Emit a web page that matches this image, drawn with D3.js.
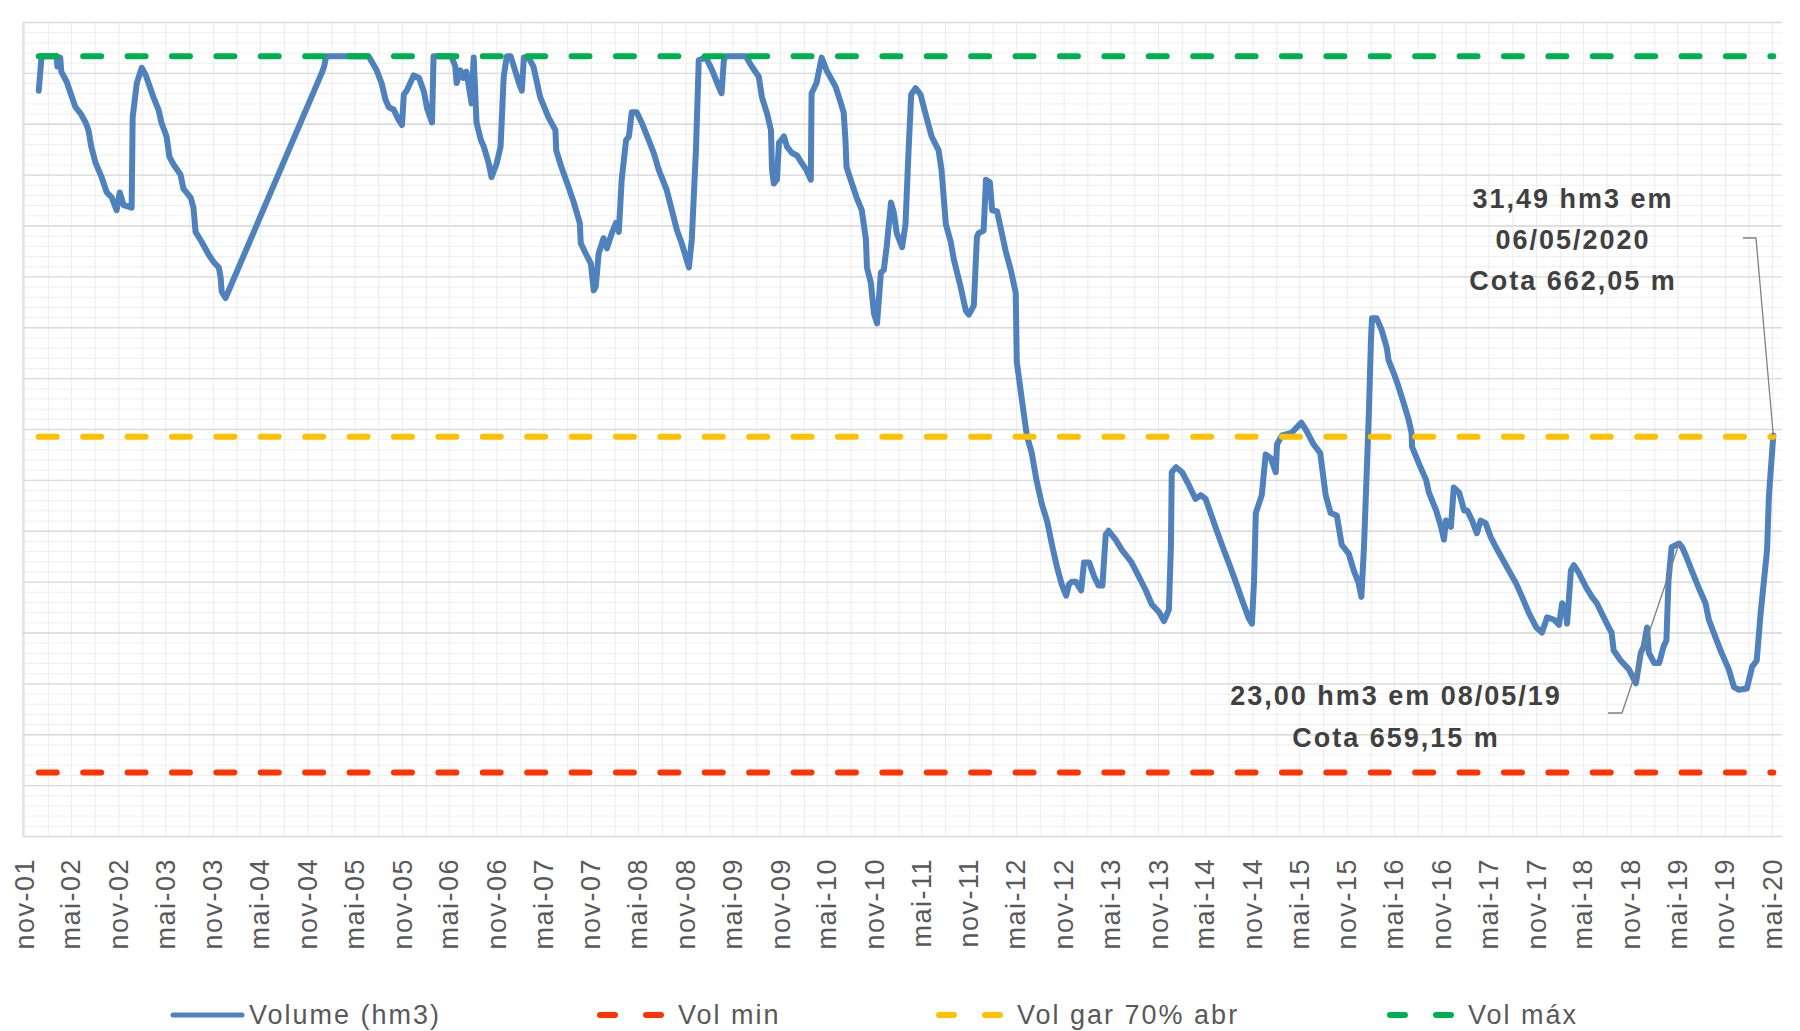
<!DOCTYPE html>
<meta charset="utf-8">
<style>
body { margin: 0; background: #fff; }
svg { font-family: "Liberation Sans", Arial, sans-serif; }
.grid path { display: none; }
.grid-minor line { stroke: #efefef; stroke-width: 1; }
.grid-vert line { stroke: #ececec; stroke-width: 1; }
.grid-major line { stroke: #d9d9d9; stroke-width: 1.4; }
.axis--x path { display: none; }
.axis--x text { font-size: 27px; fill: #595959; letter-spacing: 1.5px; }
.volume { fill: none; stroke: #4f81bd; stroke-width: 6; stroke-linejoin: round; stroke-linecap: round; }
.ref { fill: none; stroke-width: 6; stroke-linecap: round; stroke-dasharray: 18 26.4; }
.note { font-size: 27px; font-weight: bold; fill: #404040; letter-spacing: 2px; }
.leader { fill: none; stroke: #808080; stroke-width: 1.3; }
.legend text { font-size: 27px; fill: #595959; letter-spacing: 2px; }
</style>
<svg width="1800" height="1031"></svg>
<script src="https://d3js.org/d3.v7.min.js"></script>
<script>
// volume series (hm3)
var dates = [
  "2001-12-28","2002-01-08","2002-03-07","2002-03-10","2002-03-21","2002-03-25","2002-04-15","2002-04-30","2002-05-19","2002-06-08",
  "2002-06-27","2002-07-08","2002-07-19","2002-08-05","2002-08-28","2002-09-17","2002-10-06","2002-10-25","2002-11-06","2002-11-21",
  "2002-12-22","2002-12-26","2003-01-11","2003-01-30","2003-02-15","2003-03-16","2003-04-05","2003-04-16","2003-05-06","2003-05-17",
  "2003-06-02","2003-06-29","2003-07-10","2003-08-07","2003-08-18","2003-08-26","2003-09-19","2003-10-16","2003-11-05","2003-11-24",
  "2003-12-01","2003-12-05","2003-12-20","2004-12-26","2005-01-04","2005-01-12","2005-06-25","2005-07-26","2005-08-14","2005-08-29",
  "2005-09-11","2005-09-30","2005-10-19","2005-11-01","2005-11-08","2005-11-19","2005-12-16","2006-01-06","2006-01-25","2006-02-06",
  "2006-02-25","2006-03-03","2006-05-11","2006-05-26","2006-05-31","2006-06-15","2006-06-26","2006-07-08","2006-07-28","2006-08-05",
  "2006-08-16","2006-09-02","2006-09-13","2006-10-02","2006-10-13","2006-11-02","2006-11-17","2006-11-29","2006-12-11","2006-12-26",
  "2007-01-15","2007-01-27","2007-02-07","2007-02-15","2007-03-05","2007-03-24","2007-04-19","2007-05-21","2007-06-17","2007-06-20",
  "2007-07-10","2007-08-07","2007-08-27","2007-09-19","2007-09-23","2007-10-12","2007-11-01","2007-11-12","2007-11-20","2007-12-01",
  "2007-12-20","2008-01-02","2008-01-21","2008-02-06","2008-02-17","2008-02-28","2008-03-16","2008-03-27","2008-04-07","2008-04-26",
  "2008-05-15","2008-05-31","2008-07-01","2008-07-20","2008-08-20","2008-09-09","2008-09-29","2008-10-17","2008-11-14","2008-11-25",
  "2008-12-11","2008-12-22","2009-01-19","2009-02-12","2009-03-09","2009-03-20","2009-03-29","2009-04-05","2009-06-22","2009-07-15",
  "2009-08-11","2009-08-23","2009-09-12","2009-09-27","2009-10-01","2009-10-08","2009-10-20","2009-10-28","2009-11-16","2009-11-28",
  "2009-12-17","2010-01-06","2010-01-21","2010-02-10","2010-02-28","2010-03-03","2010-03-22","2010-04-11","2010-04-30","2010-06-04",
  "2010-06-23","2010-07-05","2010-07-12","2010-07-16","2010-08-01","2010-08-24","2010-09-13","2010-09-29","2010-10-03","2010-10-18",
  "2010-10-30","2010-11-11","2010-11-26","2010-12-07","2010-12-18","2011-01-04","2011-01-15","2011-01-26","2011-02-16","2011-03-01",
  "2011-03-12","2011-03-23","2011-04-09","2011-04-28","2011-05-17","2011-06-10","2011-07-07","2011-07-18","2011-08-04","2011-08-23",
  "2011-09-04","2011-10-01","2011-10-20","2011-11-01","2011-11-20","2011-12-02","2011-12-09","2011-12-28","2012-01-06","2012-01-21",
  "2012-01-30","2012-02-18","2012-03-03","2012-03-22","2012-04-11","2012-04-30","2012-05-04","2012-05-23","2012-06-12","2012-07-01",
  "2012-07-20","2012-08-09","2012-08-30","2012-09-17","2012-10-07","2012-10-26","2012-11-11","2012-11-22","2012-12-03","2012-12-18",
  "2013-01-08","2013-01-19","2013-02-08","2013-02-27","2013-03-16","2013-03-31","2013-04-13","2013-04-24","2013-05-21","2013-06-14",
  "2013-07-11","2013-07-22","2013-08-19","2013-09-15","2013-10-08","2013-11-05","2013-11-24","2013-12-13","2013-12-21","2013-12-24",
  "2014-01-10","2014-02-02","2014-02-28","2014-03-26","2014-04-15","2014-05-04","2014-05-23","2014-06-16","2014-07-13","2014-08-01",
  "2014-08-28","2014-09-21","2014-10-18","2014-10-30","2014-11-07","2014-11-14","2014-12-07","2014-12-22","2015-01-11","2015-01-30",
  "2015-02-04","2015-02-23","2015-04-01","2015-05-09","2015-05-28","2015-06-25","2015-07-21","2015-08-11","2015-08-30","2015-09-23",
  "2015-10-12","2015-11-08","2015-11-27","2015-12-16","2015-12-27","2016-01-06","2016-01-25","2016-02-02","2016-02-06","2016-02-24",
  "2016-03-14","2016-04-03","2016-04-10","2016-04-30","2016-05-19","2016-06-08","2016-06-27","2016-07-08","2016-07-10","2016-08-05",
  "2016-09-02","2016-09-13","2016-10-11","2016-10-30","2016-11-10","2016-11-18","2016-12-07","2016-12-18","2017-01-08","2017-01-27",
  "2017-02-08","2017-02-27","2017-03-17","2017-04-01","2017-04-20","2017-05-10","2017-05-30","2017-06-21","2017-07-18","2017-08-15",
  "2017-09-08","2017-10-05","2017-11-02","2017-11-24","2017-12-14","2018-01-10","2018-01-29","2018-02-10","2018-02-25","2018-03-01",
  "2018-03-16","2018-03-27","2018-04-15","2018-05-12","2018-06-05","2018-06-24","2018-07-13","2018-08-09","2018-08-20","2018-08-28",
  "2018-09-24","2018-10-26","2018-11-22","2018-12-11","2018-12-22","2019-01-04","2019-01-11","2019-02-01","2019-02-20","2019-03-09",
  "2019-03-20","2019-03-28","2019-04-09","2019-05-08","2019-05-20","2019-06-06","2019-06-25","2019-07-21","2019-08-18","2019-08-31",
  "2019-09-26","2019-10-19","2019-11-16","2019-12-06","2019-12-25","2020-01-25","2020-02-14","2020-03-03","2020-03-18","2020-03-31",
  "2020-04-12","2020-04-19","2020-05-06"
];
var volume = [
  58.6, 61.3, 61.3, 60.5, 61.2, 60.1, 59.3, 58.4, 57.3, 56.8,
  56.1, 55.5, 54.2, 52.9, 51.8, 50.6, 50.2, 49.2, 50.6, 49.6,
  49.4, 56.5, 59.2, 60.4, 59.8, 58.1, 57.1, 56.1, 55.0, 53.4,
  52.8, 52.0, 50.9, 50.2, 49.4, 47.5, 46.7, 45.7, 45.1, 44.7,
  43.9, 42.8, 42.3, 60.0, 60.5, 61.3, 61.3, 60.2, 59.2, 57.9,
  57.3, 57.1, 56.3, 55.9, 58.3, 58.6, 59.8, 59.6, 58.5, 57.2,
  56.1, 61.3, 61.3, 60.5, 59.2, 60.2, 59.6, 60.1, 57.6, 61.2,
  56.1, 54.7, 54.2, 52.9, 51.8, 52.9, 54.2, 59.7, 61.3, 61.3,
  60.0, 59.2, 58.6, 61.2, 61.2, 60.5, 58.1, 56.5, 55.5, 53.9,
  52.6, 51.0, 49.8, 48.2, 46.6, 45.8, 45.0, 42.9, 43.2, 45.8,
  47.0, 46.2, 47.4, 48.2, 47.5, 51.6, 54.7, 55.0, 56.9, 56.9,
  56.1, 55.3, 53.7, 52.4, 50.8, 49.2, 47.6, 46.6, 44.7, 46.9,
  53.9, 61.0, 61.2, 60.2, 58.9, 58.4, 61.0, 61.3, 61.3, 60.5,
  59.7, 58.1, 56.8, 55.5, 52.4, 51.3, 51.6, 54.5, 55.0, 54.2,
  53.7, 53.5, 53.0, 52.4, 51.6, 58.4, 59.2, 61.2, 60.2, 58.9,
  57.7, 56.9, 54.7, 52.6, 51.6, 50.2, 49.2, 46.9, 44.7, 43.5,
  41.1, 40.3, 44.3, 44.5, 46.3, 49.8, 49.0, 47.4, 46.3, 48.1,
  53.5, 58.3, 58.8, 58.3, 56.8, 55.0, 53.9, 52.4, 48.1, 46.7,
  45.3, 43.1, 41.3, 41.0, 41.7, 47.1, 47.4, 47.6, 51.6, 51.4,
  49.2, 49.1, 47.8, 46.0, 44.5, 42.7, 37.3, 34.4, 31.5, 30.1,
  27.9, 26.1, 24.7, 22.9, 21.1, 19.7, 18.9, 19.8, 20.0, 20.0,
  19.3, 21.5, 21.5, 20.4, 19.7, 19.7, 23.7, 24.0, 23.3, 22.5,
  21.8, 21.5, 20.4, 19.3, 18.2, 17.6, 16.9, 17.8, 22.9, 28.6,
  29.0, 28.6, 27.6, 26.5, 26.8, 26.5, 25.4, 24.0, 22.5, 21.5,
  20.0, 18.6, 17.1, 16.7, 20.0, 25.4, 26.8, 30.0, 29.7, 28.6,
  30.8, 31.5, 31.7, 32.5, 31.9, 30.8, 30.1, 26.8, 25.4, 25.2,
  22.9, 22.2, 20.9, 19.9, 18.8, 22.7, 33.3, 39.0, 40.7, 40.7,
  39.8, 38.4, 37.4, 36.4, 35.3, 34.0, 32.7, 31.7, 30.6, 29.3,
  28.0, 27.0, 25.6, 24.3, 23.3, 24.8, 24.3, 27.4, 27.0, 25.6,
  25.6, 24.8, 23.8, 24.8, 24.6, 23.5, 22.7, 21.9, 20.9, 19.9,
  18.8, 17.5, 16.4, 16.0, 17.2, 17.0, 16.6, 18.3, 17.5, 16.7,
  20.9, 21.3, 20.7, 19.6, 18.8, 18.3, 17.5, 16.4, 16.0, 14.6,
  13.8, 13.1, 12.0, 14.4, 14.9, 16.4, 14.4, 13.6, 13.6, 14.9,
  15.4, 20.1, 22.7, 23.0, 22.7, 21.9, 20.9, 19.6, 18.3, 17.0,
  15.6, 14.4, 13.1, 11.7, 11.5, 11.6, 13.3, 13.8, 17.5, 20.1,
  22.5, 26.7, 31.49
];

var volMin = 5.0, volGar = 31.4, volMax = 61.3;

var monthNames = ["jan","fev","mar","abr","mai","jun","jul","ago","set","out","nov","dez"];
var legendLabels = ["Volume (hm3)", "Vol min", "Vol gar 70% abr", "Vol máx"];
var noteDates = ["2020-05-06", "2019-05-08"];
var noteValues = [31.49, 23.00];
var noteLines = [
  ["31,49 hm3 em", "06/05/2020", "Cota 662,05 m"],
  ["23,00 hm3 em 08/05/19", "Cota 659,15 m"]
];

var parse = d3.timeParse("%Y-%m-%d");
var data = dates.map(function(d, i) { return {date: parse(d), v: volume[i]}; });

var svg = d3.select("svg"),
    margin = {top: 22, right: 18, bottom: 195, left: 23},
    width = +svg.attr("width") - margin.left - margin.right,
    height = +svg.attr("height") - margin.top - margin.bottom,
    g = svg.append("g")
        .attr("transform", "translate(" + margin.left + "," + margin.top + ")");

var axisStart = parse("2001-11-01"), axisEnd = parse("2020-05-01");

var x = d3.scaleTime()
    .domain([axisStart, axisEnd])
    .range([1, 1749]);

var y = d3.scaleLinear()
    .domain([0, 64])
    .range([height, 0]);

// gridlines
g.append("g")
    .attr("class", "grid grid-minor")
    .call(d3.axisLeft(y)
      .tickValues(d3.range(0, 81).map(function(i) { return i * 0.8; }))
      .tickSize(-width).tickFormat(""));

g.append("g")
    .attr("class", "grid grid-vert")
    .attr("transform", "translate(0," + height + ")")
    .call(d3.axisBottom(x)
      .tickValues(d3.timeMonth.range(axisStart, d3.timeDay.offset(axisEnd, 1), 3))
      .tickSize(-height).tickFormat(""));

g.append("g")
    .attr("class", "grid grid-major")
    .call(d3.axisLeft(y)
      .tickValues(d3.range(0, 17).map(function(i) { return i * 4; }))
      .tickSize(-width).tickFormat(""));

g.append("line")
    .attr("x1", 0).attr("x2", 0).attr("y1", 0).attr("y2", height)
    .attr("stroke", "#d9d9d9").attr("stroke-width", 1.4);

// x axis labels
var yy = d3.timeFormat("%y");
var xAxis = g.append("g")
    .attr("class", "axis axis--x")
    .attr("transform", "translate(0," + height + ")")
    .call(d3.axisBottom(x)
      .tickValues(d3.timeMonth.range(axisStart, d3.timeDay.offset(axisEnd, 1), 6))
      .tickSize(0)
      .tickFormat(function(d) { return monthNames[d.getMonth()] + "-" + yy(d); }));

xAxis.selectAll("text")
    .attr("x", 0).attr("y", 0).attr("dy", null)
    .attr("text-anchor", "end")
    .attr("dominant-baseline", "central")
    .attr("transform", "translate(0,22) rotate(-90)");

// series
var line = d3.line()
    .x(function(d) { return x(d.date); })
    .y(function(d) { return y(d.v); });

g.append("path")
    .datum(data)
    .attr("class", "volume")
    .attr("d", line);

var first = data[0].date, last = data[data.length - 1].date;
var refs = [
  {v: volMin, color: "#ff3300"},
  {v: volGar, color: "#ffc000"},
  {v: volMax, color: "#00b050"}
];
g.selectAll(".ref")
    .data(refs)
    .enter().append("path")
    .attr("class", "ref")
    .attr("stroke", function(d) { return d.color; })
    .attr("d", function(d) { return line([{date: first, v: d.v}, {date: last, v: d.v}]); });

// annotations
var noteLayout = [
  {cx: 1550, baseline: 186, step: 41, elbow: [1720, 1733]},
  {cx: 1373, baseline: 683, step: 42, elbow: [1585, 1599]}
];
var noteBox = [216, 691];

noteLines.forEach(function(lines, i) {
  var L = noteLayout[i];
  var px = x(parse(noteDates[i])), py = y(noteValues[i]);
  g.append("polyline")
      .attr("class", "leader")
      .attr("points", [[L.elbow[0], noteBox[i]], [L.elbow[1], noteBox[i]], [px, py]].join(" "));
  g.selectAll(".note" + i)
      .data(lines)
      .enter().append("text")
      .attr("class", "note note" + i)
      .attr("x", L.cx)
      .attr("y", function(d, j) { return L.baseline + j * L.step; })
      .attr("text-anchor", "middle")
      .text(function(d) { return d; });
});

// legend
var legendColors = ["#4f81bd", "#ff3300", "#ffc000", "#00b050"];
var legendX = [173, 600, 939, 1390];
var legend = svg.append("g").attr("class", "legend")
    .attr("transform", "translate(0,1015)");

legendLabels.forEach(function(lbl, i) {
  var it = legend.append("g").attr("transform", "translate(" + legendX[i] + ",0)");
  if (i === 0) {
    it.append("line").attr("x1", 0).attr("x2", 69).attr("y1", 0).attr("y2", 0)
      .attr("stroke", legendColors[i]).attr("stroke-width", 5).attr("stroke-linecap", "round");
    it.append("text").attr("x", 76).attr("y", 0).attr("dy", "0.35em").text(lbl);
  } else {
    it.append("line").attr("x1", 0).attr("x2", 61).attr("y1", 0).attr("y2", 0)
      .attr("stroke", legendColors[i]).attr("stroke-width", 6).attr("stroke-linecap", "round")
      .attr("stroke-dasharray", "15 31");
    it.append("text").attr("x", 78).attr("y", 0).attr("dy", "0.35em").text(lbl);
  }
});
</script>
